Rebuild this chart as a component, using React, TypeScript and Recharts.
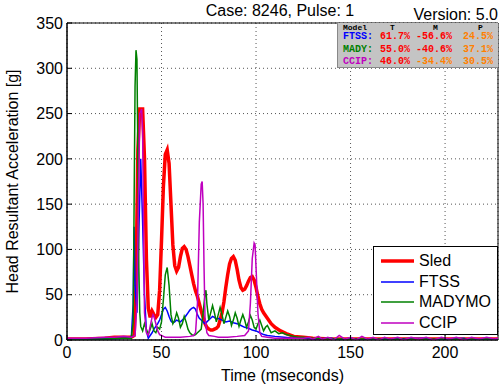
import React from "react";
import { LineChart, Line, XAxis, YAxis, CartesianGrid, ReferenceArea } from "recharts";

const xTicks = [0, 50, 100, 150, 200];
const yTicks = [0, 50, 100, 150, 200, 250, 300, 350];

const sledData: [number, number][] = [
  [0, 1], [10, 1], [20, 2], [25, 3], [30, 3], [34, 3], [35.5, 5], [36.5, 60], [37.5, 210], [38.5, 255], [40, 255],
  [41, 200], [42, 90], [43, 35], [44, 25], [45, 32], [46, 28], [47, 25], [48, 28], [49, 55], [50, 110], [51, 170],
  [52, 205], [53, 210], [54, 195], [55, 150], [56, 105], [57, 82], [58, 76], [59, 80], [60, 92], [61, 101], [62, 103],
  [63, 100], [64, 92], [65, 82], [66, 72], [67, 62], [68, 54], [69, 48], [70, 40], [71, 32], [72, 25], [73, 18],
  [74, 14], [75, 12], [76, 11], [77, 11], [78, 12], [79, 13], [80, 15], [81, 22], [82, 30], [83, 42], [84, 58],
  [85, 72], [86, 84], [87, 90], [88, 92], [89, 88], [90, 78], [91, 66], [92, 58], [93, 55], [94, 56], [95, 60],
  [96, 65], [97, 69], [98, 70], [99, 66], [100, 58], [101, 48], [102, 40], [103, 34], [104, 30], [106, 24],
  [108, 18], [110, 14], [113, 10], [116, 7], [120, 4], [125, 3], [130, 2], [140, 1], [160, 1], [228, 1],
];

const ftssData: [number, number][] = [
  [0, 1], [20, 1], [30, 2], [34, 2], [35, 40], [35.5, 125], [36, 60], [37, 30], [38, 120], [39, 200], [40, 130],
  [41, 50], [42, 10], [43, 2], [44, 5], [45, 8], [46, 12], [47, 15], [48, 18], [49, 22], [50, 28], [51, 34],
  [52, 36], [53, 32], [54, 26], [55, 21], [56, 19], [57, 20], [58, 22], [59, 21], [60, 20], [61, 22], [62, 24],
  [63, 27], [64, 30], [65, 33], [66, 35], [67, 36], [68, 34], [69, 28], [70, 24], [71, 22], [72, 20], [73, 18],
  [74, 20], [75, 22], [76, 24], [77, 26], [78, 25], [79, 23], [80, 24], [82, 22], [84, 20], [86, 21], [88, 19],
  [90, 18], [92, 16], [94, 14], [96, 13], [98, 11], [100, 10], [102, 8], [104, 6], [106, 5], [110, 4], [115, 3],
  [120, 2], [125, 2], [130, 1], [140, 2], [143, 0], [150, 2], [155, 0], [170, 1], [190, 2], [193, 0], [210, 2],
  [213, 0], [228, 1],
];

const madymoData: [number, number][] = [
  [0, 1], [20, 1], [30, 2], [34, 2], [35, 20], [35.5, 150], [36, 280], [36.5, 320], [37, 310], [37.5, 200],
  [38, 80], [38.5, 30], [39, 15], [40, 10], [41, 18], [42, 12], [43, 6], [44, 12], [45, 18], [46, 10], [47, 8],
  [48, 14], [49, 12], [50, 20], [51, 45], [52, 72], [53, 80], [54, 60], [55, 28], [56, 18], [57, 22], [58, 30],
  [59, 24], [60, 14], [61, 18], [62, 26], [63, 20], [64, 12], [65, 8], [66, 6], [67, 5], [68, 6], [69, 8],
  [70, 10], [71, 12], [72, 30], [73, 50], [73.5, 55], [74, 40], [75, 22], [76, 30], [77, 38], [78, 30], [79, 20],
  [80, 28], [81, 36], [82, 28], [83, 18], [84, 25], [85, 32], [86, 26], [87, 16], [88, 22], [89, 30], [90, 24],
  [91, 15], [92, 22], [93, 28], [94, 22], [95, 14], [96, 20], [97, 27], [98, 22], [99, 14], [100, 12], [101, 18],
  [102, 22], [103, 16], [104, 10], [105, 14], [106, 16], [107, 12], [108, 8], [110, 10], [112, 7], [114, 8],
  [116, 6], [118, 5], [120, 4], [122, 3], [125, 3], [130, 2], [140, 1], [228, 1],
];

const ccipData: [number, number][] = [
  [0, 2], [10, 2], [20, 3], [25, 3], [30, 4], [34, 3], [36, 5], [37, 40], [38, 180], [38.5, 250], [39.5, 255],
  [40, 230], [40.5, 120], [41, 30], [42, 8], [43, 5], [44, 15], [45, 25], [45.5, 28], [46, 26], [47, 18],
  [48, 10], [49, 6], [50, 5], [51, 4], [52, 3], [55, 3], [60, 3], [65, 4], [67, 5], [68, 8], [69, 40], [70, 130],
  [71, 172], [71.5, 175], [72, 150], [72.5, 80], [73, 25], [74, 8], [75, 5], [78, 4], [80, 3], [85, 3], [90, 4],
  [94, 5], [96, 10], [97, 40], [98, 90], [99, 107], [99.5, 105], [100, 80], [101, 30], [102, 8], [103, 4],
  [106, 3], [110, 2], [120, 2], [125, 2], [128, 3], [130, 1], [133, 4], [135, 1], [138, 3], [141, 0], [144, 5],
  [147, 1], [150, 3], [153, 0], [156, 4], [159, 1], [162, 3], [165, 0], [168, 3], [171, 1], [175, 3], [178, 0],
  [182, 3], [186, 1], [190, 3], [194, 0], [198, 3], [202, 1], [206, 3], [210, 0], [214, 3], [218, 1], [222, 3],
  [226, 1], [228, 2],
];

const seriesNames = ["Sled", "FTSS", "MADYMO", "CCIP"];
const seriesColors = ["#ff0000", "#0000ff", "#008000", "#bf00bf"];
const seriesWidths = [3.5, 1.5, 1.5, 1.5];
const seriesData = [sledData, ftssData, madymoData, ccipData];

const tableHeader = ["Model", "T", "M", "P"];
const tableModels = ["FTSS:", "MADY:", "CCIP:"];
const tableModelColors = ["#0000ff", "#008000", "#bf00bf"];
const tableValues = [
  ["61.7%", "-56.6%", "24.5%"],
  ["55.0%", "-40.6%", "37.1%"],
  ["46.0%", "-34.4%", "30.5%"],
];
const tableValueColors = [
  ["#ff0000", "#ff0000", "#ff8000"],
  ["#ff0000", "#ff0000", "#ff8000"],
  ["#ff0000", "#ff8000", "#ff8000"],
];

const font = "'Liberation Sans', Arial, sans-serif";
const mono = "'Liberation Mono', 'DejaVu Sans Mono', monospace";
const noTick = () => <g />;

export default function App() {
  const colX = [342, 379, 415, 462];
  const headerX = [342, 389, 432, 477];
  return (
    <div style={{ position: "absolute", left: 0, top: 0, width: 502, height: 385, background: "#fff", fontFamily: font }}>
      <LineChart width={502} height={385} margin={{ top: 23, right: 4, bottom: 0, left: 0 }}>
        <CartesianGrid stroke="#555" strokeDasharray="1 3" strokeWidth={1} />
        <XAxis
          type="number"
          dataKey="t"
          domain={[0, 228]}
          ticks={xTicks}
          allowDataOverflow
          height={45}
          tickLine={{ stroke: "#000" }}
          tickSize={-5}
          tickMargin={12}
          axisLine={{ stroke: "#000" }}
          tick={{ fill: "#000", fontSize: 16, fontFamily: font }}
          label={{ value: "Time (mseconds)", position: "insideBottom", offset: 4, fill: "#000", fontSize: 16, fontFamily: font }}
        />
        <XAxis
          xAxisId="top"
          orientation="top"
          type="number"
          domain={[0, 228]}
          ticks={xTicks}
          allowDataOverflow
          height={0}
          tickLine={{ stroke: "#000" }}
          tickSize={-5}
          axisLine={{ stroke: "#000" }}
          tick={noTick}
        />
        <YAxis
          type="number"
          domain={[0, 350]}
          ticks={yTicks}
          allowDataOverflow
          width={67}
          tickLine={{ stroke: "#000" }}
          tickSize={-5}
          tickMargin={9}
          axisLine={{ stroke: "#000" }}
          tick={{ fill: "#000", fontSize: 16, fontFamily: font }}
          label={{
            value: "Head Resultant Acceleration [g]",
            angle: -90,
            position: "insideLeft",
            offset: 0,
            dx: 12,
            fill: "#000",
            fontSize: 16,
            fontFamily: font,
            style: { textAnchor: "middle" },
          }}
        />
        <YAxis
          yAxisId="right"
          orientation="right"
          type="number"
          domain={[0, 350]}
          ticks={yTicks}
          allowDataOverflow
          width={0}
          tickLine={{ stroke: "#000" }}
          tickSize={-5}
          axisLine={{ stroke: "#000" }}
          tick={noTick}
        />
        {seriesData.map((d, i) => (
          <Line
            key={seriesNames[i]}
            data={d.map(([t, v]) => ({ t, v }))}
            dataKey="v"
            type="linear"
            stroke={seriesColors[i]}
            strokeWidth={seriesWidths[i]}
            dot={false}
            isAnimationActive={false}
          />
        ))}
        <ReferenceArea x1={0} x2={228} y1={0} y2={350} fill="none" stroke="#000" strokeWidth={1} ifOverflow="visible" />
      </LineChart>

      <div style={{ position: "absolute", left: 0, width: 502, top: 2, textAlign: "center", paddingLeft: 58, boxSizing: "border-box", fontSize: 16, lineHeight: "18px", color: "#000" }}>
        Case: 8246, Pulse: 1
      </div>
      <div style={{ position: "absolute", right: 4, top: 7, fontSize: 16, lineHeight: "16px", color: "#000" }}>
        Version: 5.0
      </div>

      <div style={{ position: "absolute", left: 337, top: 23, width: 161, height: 45, background: "#c4c4c4", borderLeft: "1px solid #888", borderBottom: "1px solid #888", boxSizing: "border-box", fontFamily: mono, fontWeight: "bold", fontSize: 10 }}>
        {tableHeader.map((h, j) => (
          <div key={h} style={{ position: "absolute", left: headerX[j] - 337, top: 1, fontSize: 8, lineHeight: "8px", color: "#000" }}>{h}</div>
        ))}
        {tableModels.map((m, r) => (
          <React.Fragment key={m}>
            <div style={{ position: "absolute", left: colX[0] - 337, top: 8 + r * 12.5, color: tableModelColors[r] }}>{m}</div>
            {tableValues[r].map((v, c) => (
              <div key={c} style={{ position: "absolute", left: colX[c + 1] - 337, top: 8 + r * 12.5, color: tableValueColors[r][c] }}>{v}</div>
            ))}
          </React.Fragment>
        ))}
      </div>

      <div style={{ position: "absolute", left: 373, top: 246, width: 125, height: 89, background: "#fff", border: "1px solid #000", boxSizing: "border-box" }}>
        {seriesNames.map((n, i) => (
          <div key={n} style={{ position: "absolute", left: 0, top: 4 + i * 20.5, height: 20, width: 124, display: "flex", alignItems: "center" }}>
            <svg width={45} height={20} style={{ display: "block" }}>
              <line x1={7} x2={40} y1={10} y2={10} stroke={seriesColors[i]} strokeWidth={seriesWidths[i]} />
            </svg>
            <span style={{ fontSize: 16, color: "#000", lineHeight: "20px" }}>{n}</span>
          </div>
        ))}
      </div>
    </div>
  );
}
